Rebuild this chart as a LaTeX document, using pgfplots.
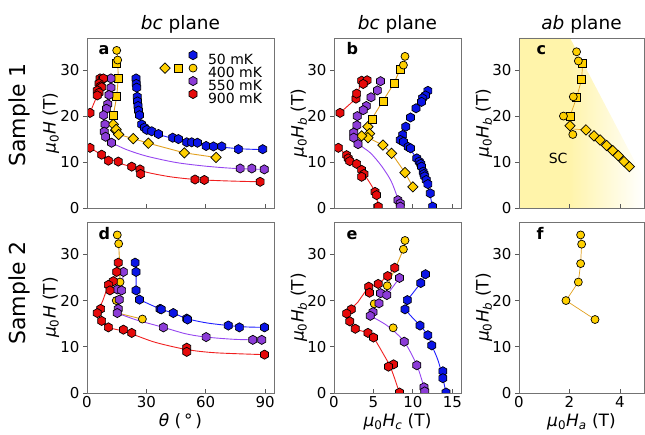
\documentclass[border=0pt]{standalone}
\usepackage{fontspec}
\setmainfont{DejaVu Sans}
\usepackage{pgfplots}
\pgfplotsset{compat=1.18}
\definecolor{cb}{RGB}{10,20,230}
\definecolor{cp}{RGB}{140,60,215}
\definecolor{cr}{RGB}{230,10,10}
\definecolor{cy}{RGB}{255,208,0}
\definecolor{lb}{RGB}{30,30,255}
\definecolor{lp}{RGB}{150,70,240}
\definecolor{lr}{RGB}{240,30,30}
\definecolor{ly}{RGB}{225,160,30}
\definecolor{scy}{RGB}{255,244,170}
\pgfdeclarehorizontalshading{scshade}{100bp}{color(0bp)=(scy); color(25bp)=(scy); color(45bp)=(scy); color(75bp)=(white); color(100bp)=(white)}
\pgfdeclareplotmark{hexagon*}{%
  \pgfpathmoveto{\pgfqpointpolar{90}{\pgfplotmarksize}}%
  \pgfpathlineto{\pgfqpointpolar{150}{\pgfplotmarksize}}%
  \pgfpathlineto{\pgfqpointpolar{210}{\pgfplotmarksize}}%
  \pgfpathlineto{\pgfqpointpolar{270}{\pgfplotmarksize}}%
  \pgfpathlineto{\pgfqpointpolar{330}{\pgfplotmarksize}}%
  \pgfpathlineto{\pgfqpointpolar{30}{\pgfplotmarksize}}%
  \pgfpathclose\pgfusepathqfillstroke}
\pgfdeclareplotmark{rdiamond*}{%
  \pgfpathmoveto{\pgfqpoint{0pt}{\pgfplotmarksize}}%
  \pgfpathlineto{\pgfqpoint{\pgfplotmarksize}{0pt}}%
  \pgfpathlineto{\pgfqpoint{0pt}{-\pgfplotmarksize}}%
  \pgfpathlineto{\pgfqpoint{-\pgfplotmarksize}{0pt}}%
  \pgfpathclose\pgfusepathqfillstroke}
\pgfplotsset{
  panel/.style={scale only axis, anchor=south west, axis on top,
    axis line style={draw=black!55, line width=0.9pt},
    tick style={black!65, line width=0.8pt}, major tick length=4pt,
    xtick align=inside, ytick align=outside, xtick pos=bottom, ytick pos=left,
    ymin=0, ymax=37, ytick={0,10,20,30},
    tick label style={font=\fontsize{15}{15}\selectfont},
    /pgf/number format/assume math mode=true,
    clip marker paths=true},
  hb/.style={only marks, mark=hexagon*, mark size=4.6pt, mark options={fill=cb, draw=black, line width=0.7pt}, forget plot},
  hp/.style={only marks, mark=hexagon*, mark size=4.6pt, mark options={fill=cp, draw=black, line width=0.7pt}, forget plot},
  hr/.style={only marks, mark=hexagon*, mark size=4.6pt, mark options={fill=cr, draw=black, line width=0.7pt}, forget plot},
  yc/.style={only marks, mark=*, mark size=4pt, mark options={fill=cy, draw=black, line width=0.7pt}, forget plot},
  ys/.style={only marks, mark=square*, mark size=4pt, mark options={fill=cy, draw=black, line width=0.7pt}, forget plot},
  yd/.style={only marks, mark=rdiamond*, mark size=5.2pt, mark options={fill=cy, draw=black, line width=0.7pt}, forget plot},
  fitb/.style={no marks, line width=0.9pt, color=lb, forget plot},
  fitp/.style={no marks, line width=0.9pt, color=lp, forget plot},
  fitr/.style={no marks, line width=0.9pt, color=lr, forget plot},
  fity/.style={no marks, line width=0.9pt, color=ly, forget plot},
}
\begin{document}
\begin{tikzpicture}
% ---------------- panel a
\begin{axis}[panel, at={(87pt,227pt)}, width=187pt, height=170pt,
  xmin=0, xmax=94.5, xtick={0,30,60,90}, xticklabels={},
  legend style={at={(axis cs:35.9,34.57)}, anchor=north west, draw=none, fill=none,
    inner sep=0pt, outer sep=0pt, row sep=-4pt, column sep=0pt,
    font=\fontsize{14}{14}\selectfont, nodes={inner sep=0pt}},
  legend cell align=left]
\addplot[fitb, smooth, tension=0.5] coordinates {(24.8,28.2)(25.1,25)(25.6,22.5)(26.5,20.2)(28,18.3)(31,17.0)(37,15.9)(45,15.0)(55,14.1)(65,13.4)(77,12.9)(89,12.7)};
\addplot[fity] coordinates {(15.2,34.3)(15.5,32.2)(15.8,28.2)(15.0,24.2)(13.3,20.2)(12.8,16.5)(16.0,16.0)(23.4,15.1)(31.0,14.1)(49.2,12.0)(65.2,11.0)};
\addplot[fitp, smooth, tension=0.5] coordinates {(12.4,14.2)(20,12.7)(30,11.3)(45,9.9)(60,9.1)(75,8.6)(89.6,8.4)};
\addplot[fitr] coordinates {(1.5,20.7)(3.5,22.8)(5.2,24.5)(6.1,26)(6.6,28.2)};
\addplot[fitr, smooth, tension=0.5] coordinates {(1.5,13.1)(7.4,11.6)(15,10.0)(22.6,8.9)(30,7.8)(42,6.8)(55,6.2)(70,5.9)(87.5,5.7)};
\addplot[hb] coordinates {(24.8,28.2)(24.9,27.0)(25.1,26.2)(25.4,24.2)(25.5,23.2)(25.8,22.2)(26.0,21.2)(26.5,20.2)(27.6,18.2)(29.0,17.5)(30.2,17.0)(32.7,16.7)(36.1,16.1)(43.3,15.3)(46.2,15.0)(50.4,14.3)(52.9,14.3)(55.8,14.2)(60.2,13.5)(63.9,13.4)(68.1,13.4)(76.5,12.8)(88.8,12.8)};
\addplot[yd] coordinates {(13.3,18.2)(14.5,16.9)(14.7,17.1)(16.0,16.0)(23.4,15.1)(31.0,14.1)(49.2,12.0)(65.2,11.0)};
\addplot[ys] coordinates {(15.0,31.4)(15.8,28.2)(15.0,24.2)(13.3,20.2)};
\addplot[yc] coordinates {(15.0,34.3)(15.5,32.2)};
\addplot[hp] coordinates {(12.1,28.2)(12.1,26.2)(11.1,24.6)(10.5,22.6)(9.8,21.6)(8.4,20.2)(9.1,18.2)(8.7,16.6)(9.4,15.5)(12.4,14.2)(77.4,8.6)(83.3,8.6)(89.6,8.4)};
\addplot[hr] coordinates {(6.6,28.2)(7.7,28.0)(8.3,28.2)(6.1,27.1)(6.9,26.5)(7.4,26.3)(5.2,25.6)(6.1,25.1)(5.2,24.5)(1.5,20.7)(1.5,13.1)(7.4,11.6)(10.8,10.3)(15.8,10.1)(22.6,9.0)(26.8,8.4)(27.1,7.4)(54.6,6.2)(59.3,6.1)(87.5,5.7)};
\addlegendimage{legend image code/.code={\path[draw=none,fill=none] (-35pt,-1pt) rectangle (15pt,11pt); \draw plot[only marks, mark=hexagon*, mark size=4.6pt, mark options={fill=cb, draw=black, line width=0.7pt}] coordinates {(0pt,5pt)};}}
\addlegendentry{50 mK}
\addlegendimage{legend image code/.code={\path[draw=none,fill=none] (-35pt,-1pt) rectangle (15pt,11pt);
 \draw plot[only marks, mark=rdiamond*, mark size=5.2pt, mark options={fill=cy, draw=black, line width=0.7pt}] coordinates {(-28pt,5pt)};
 \draw plot[only marks, mark=square*, mark size=4pt, mark options={fill=cy, draw=black, line width=0.7pt}] coordinates {(-15pt,5pt)};
 \draw plot[only marks, mark=*, mark size=4pt, mark options={fill=cy, draw=black, line width=0.7pt}] coordinates {(0pt,5pt)};}}
\addlegendentry{400 mK}
\addlegendimage{legend image code/.code={\path[draw=none,fill=none] (-35pt,-1pt) rectangle (15pt,11pt); \draw plot[only marks, mark=hexagon*, mark size=4.6pt, mark options={fill=cp, draw=black, line width=0.7pt}] coordinates {(0pt,5pt)};}}
\addlegendentry{550 mK}
\addlegendimage{legend image code/.code={\path[draw=none,fill=none] (-35pt,-1pt) rectangle (15pt,11pt); \draw plot[only marks, mark=hexagon*, mark size=4.6pt, mark options={fill=cr, draw=black, line width=0.7pt}] coordinates {(0pt,5pt)};}}
\addlegendentry{900 mK}
\end{axis}
% ---------------- panel b
\begin{axis}[panel, at={(334pt,227pt)}, width=127pt, height=170pt,
  xmin=0, xmax=16.1, xtick={0,5,10,15}, xticklabels={}]
\addplot[fitb, smooth, tension=0.5] coordinates {(8.4,14.8)(9.4,13.3)(10.3,11.2)(11.0,9.0)(11.6,6.3)(12.1,3.5)(12.5,0)};
\addplot[fity] coordinates {(4.8,19.4)(6.2,23.3)(7.6,27.1)(8.35,30.1)(8.8,31.1)(9.0,33.0)};
\addplot[fity] coordinates {(3.5,15.7)(4.3,15.3)(6.2,13.7)(7.3,11.9)(9.0,7.7)(10.0,4.6)};
\addplot[fitp, smooth, tension=0.5] coordinates {(3.05,13.9)(4.6,12)(6,9.2)(7.2,6)(8,2.5)(8.4,0)};
\addplot[fitr] coordinates {(0.76,20.7)(2.78,23.8)(3.5,27.7)};
\addplot[fitr, smooth, tension=0.5] coordinates {(0.55,13.1)(1.6,11.5)(2.7,9.7)(3.6,7.8)(4.5,5.6)(5.2,3.4)(5.7,0)};
\addplot[hb] coordinates {(11.9,25.5)(11.6,24.5)(11.2,23.9)(11.1,23.1)(10.4,21.7)(9.7,19.7)(9.1,17.7)(8.7,15.9)(8.4,14.8)(8.8,14.4)(9.4,13.3)(9.7,13.0)(10.5,10.8)(10.8,10.1)(11.0,9.6)(11.1,9.0)(11.3,7.9)(11.4,7.4)(11.5,6.9)(11.7,6.1)(11.9,5.2)(12.2,3.2)(12.5,0.3)};
\addplot[yd] coordinates {(4.3,17.7)(4.5,16.2)(4.3,15.3)(3.5,15.7)(6.2,13.7)(7.3,11.9)(9.0,7.7)(10.0,4.6)};
\addplot[ys] coordinates {(8.35,30.1)(7.6,27.1)(6.2,23.3)(4.8,19.4)};
\addplot[yc] coordinates {(9.0,33.0)(8.8,31.1)};
\addplot[hp] coordinates {(5.9,27.6)(5.5,25.6)(4.7,24.1)(4.1,22.2)(3.7,21.3)(2.95,20.0)(2.9,18.0)(2.5,16.4)(2.5,15.3)(3.05,13.9)(8.1,1.7)(8.4,1.0)(8.4,0.3)};
\addplot[hr] coordinates {(0.55,13.1)(1.6,11.5)(1.8,10.8)(2.0,10.2)(2.87,9.6)(3.5,8.3)(3.8,7.4)(3.5,6.8)(5.2,3.5)(5.4,2.8)(5.6,0.3)(0.76,20.7)(2.78,23.8)(2.87,24.9)(3.5,27.7)(4.2,27.8)(3.7,27.0)};
\end{axis}
% ---------------- panel c
\begin{axis}[panel, at={(519pt,227pt)}, width=125pt, height=170pt,
  xmin=0, xmax=4.95, xtick={0,2,4}, xticklabels={}]
\shade[shading=scshade, draw=none] (axis cs:0,0) -- (axis cs:0,37) -- (axis cs:2.02,37) -- (axis cs:4.95,6.3) -- (axis cs:4.95,0) -- cycle;
\node[font=\fontsize{14}{14}\selectfont] at (axis cs:1.55,10.9) {SC};
\addplot[fity, line width=0.7pt] coordinates {(2.52,31.4)(2.48,28.0)(2.28,24.0)(2.02,20.0)(2.1,17.2)(2.65,17.0)(2.97,15.7)(3.21,14.8)(3.47,13.6)(3.71,12.5)(3.93,11.4)(4.16,10.1)(4.37,9.0)};
\addplot[yd] coordinates {(2.02,17.9)(2.65,17.0)(2.97,15.7)(3.21,14.8)(3.47,13.6)(3.71,12.5)(3.93,11.4)(4.16,10.1)(4.37,9.0)};
\addplot[ys] coordinates {(2.52,31.4)(2.48,28.0)(2.28,24.0)(2.02,20.0)};
\addplot[yc] coordinates {(2.28,34.0)(2.35,32.0)(2.15,24.2)(1.76,20.0)(2.13,16.0)};
\end{axis}
% ---------------- panel d
\begin{axis}[panel, at={(87pt,42pt)}, width=187pt, height=171pt,
  xmin=0, xmax=94.5, xtick={0,30,60,90}]
\addplot[fitb] coordinates {(24.3,28.2)(24.8,26.2)(24.8,22.2)(26.5,20.2)};
\addplot[fitb, smooth, tension=0.5] coordinates {(26.5,20.2)(36.9,18.2)(43.6,17.3)(50.4,16.1)(60,15.2)(71.4,14.6)(80,14.3)(89.7,14.2)};
\addplot[fity] coordinates {(15.3,34.2)(16.0,32.3)(16.5,28)(16.7,24.0)(16,21.5)};
\addplot[fity] coordinates {(15.5,17.3)(26.8,16.1)};
\addplot[fitp] coordinates {(18.4,26.2)(17.5,22.2)};
\addplot[fitp, smooth, tension=0.5] coordinates {(15.3,17.3)(25,15.8)(38.6,14.2)(50,12.8)(60.2,12.1)(75,11.6)(88.3,11.5)};
\addplot[fitr] coordinates {(5.2,17.3)(8,20)(10.8,23.4)(13.3,24.2)(15,26.2)(15.8,28.2)};
\addplot[fitr, smooth, tension=0.5] coordinates {(5.2,17.3)(7.4,15.6)(10.8,14.2)(18.4,13.4)(25,12.4)(35,10.9)(50.4,9.4)(65,8.7)(89.7,8.3)};
\addplot[hb] coordinates {(24.3,28.2)(24.8,26.2)(24.8,22.2)(26.5,20.2)(36.9,18.2)(37.5,18.1)(43.6,17.3)(50.4,16.1)(50.8,15.9)(71.4,14.6)(77.0,14.2)(89.7,14.2)};
\addplot[yc] coordinates {(15.3,34.2)(16.0,32.3)(16.7,24.0)(14.8,20.0)(28.0,16.0)};
\addplot[hp] coordinates {(18.4,26.2)(15.3,22.4)(17.5,22.2)(16.3,20.2)(15.8,18.2)(15.3,17.3)(38.6,14.2)(60.2,12.1)(83.8,11.5)(88.3,11.5)};
\addplot[hr] coordinates {(15.8,28.2)(15.0,26.2)(13.3,24.2)(10.8,23.4)(11.6,22.2)(6.9,18.2)(5.2,17.3)(7.4,15.6)(10.8,14.2)(18.4,13.7)(22.6,13.0)(50.4,9.8)(50.4,8.9)(89.7,8.3)};
\end{axis}
% ---------------- panel e
\begin{axis}[panel, at={(334pt,42pt)}, width=127pt, height=171pt,
  xmin=0, xmax=16.1, xtick={0,5,10,15}]
\addplot[fitb] coordinates {(11.6,25.7)(11.0,23.8)(9.3,20.1)(9.0,18.1)};
\addplot[fitb, smooth, tension=0.5] coordinates {(9.0,18.1)(10.0,16.2)(10.9,14.6)(11.9,12.5)(12.4,10.3)(13.2,7)(13.8,3.2)(14.2,0)};
\addplot[fity] coordinates {(9.0,33.0)(8.8,31.1)(7.9,27.5)(6.75,23.2)};
\addplot[fitp] coordinates {(8.3,24.9)(6.7,21.2)};
\addplot[fitp, smooth, tension=0.5] coordinates {(4.6,16.7)(6.8,14.5)(8.9,11.1)(10.5,6.0)(11.4,1.24)(11.5,0)};
\addplot[fitr] coordinates {(7.7,27.1)(6.8,25.3)(5.6,23.6)(4.4,23.0)(3,19.6)(1.6,17.2)};
\addplot[fitr, smooth, tension=0.5] coordinates {(1.6,17.2)(2.0,15.5)(2.7,13.9)(4.3,13.0)(5.0,12.0)(6.0,9.2)(7.2,5.4)(8.3,0)};
\addplot[hb] coordinates {(11.6,25.7)(11.0,23.8)(9.3,20.1)(9.0,18.1)(10.9,14.6)(11.9,12.5)(12.4,10.3)(13.8,4.7)(13.8,3.2)(14.2,0.1)};
\addplot[yc] coordinates {(9.0,33.0)(8.8,31.1)(6.75,23.2)(5.1,19.3)(7.5,14.1)};
\addplot[hp] coordinates {(8.3,24.9)(5.9,21.6)(6.7,21.2)(5.7,19.4)(4.95,17.5)(4.6,16.7)(8.9,11.1)(10.5,6.0)(11.4,1.24)(11.5,0.34)};
\addplot[hr] coordinates {(7.7,27.1)(6.8,25.3)(5.6,23.6)(4.4,23.0)(4.5,21.7)(2.2,18.1)(1.6,17.2)(2.0,15.5)(2.7,13.9)(4.3,13.0)(5.0,12.0)(7.55,6.2)(6.9,5.7)(8.3,0.1)};
\end{axis}
% ---------------- panel f
\begin{axis}[panel, at={(519pt,42pt)}, width=125pt, height=171pt,
  xmin=0, xmax=4.95, xtick={0,2,4}]
\addplot[fity, line width=0.7pt] coordinates {(2.44,34.2)(2.48,32.2)(2.44,28.0)(2.35,24.0)(1.86,20.0)(3.01,15.9)};
\addplot[yc] coordinates {(2.44,34.2)(2.48,32.2)(2.44,28.0)(2.35,24.0)(1.86,20.0)(3.01,15.9)};
\end{axis}
% ---------------- texts
\begin{scope}[every node/.style={font=\fontsize{18.5}{20}\selectfont, anchor=base}]
\node at (180.5pt,405.5pt) {\textit{bc} plane};
\node at (397.5pt,405.5pt) {\textit{bc} plane};
\node at (581.5pt,405.5pt) {\textit{ab} plane};
\end{scope}
\begin{scope}[every node/.style={font=\fontsize{22}{24}\selectfont, rotate=90}]
\node at (19pt,320pt) {Sample 1};
\node at (19pt,142pt) {Sample 2};
\end{scope}
\begin{scope}[every node/.style={font=\fontsize{17}{19}\selectfont, rotate=90}]
\node at (51pt,312pt) {\textit{μ}\textsubscript{0}\textit{H} (T)};
\node at (299pt,312pt) {\textit{μ}\textsubscript{0}\textit{H}\textsubscript{\textit{b}} (T)};
\node at (484pt,312pt) {\textit{μ}\textsubscript{0}\textit{H}\textsubscript{\textit{b}} (T)};
\node at (51pt,127.5pt) {\textit{μ}\textsubscript{0}\textit{H} (T)};
\node at (299pt,127.5pt) {\textit{μ}\textsubscript{0}\textit{H}\textsubscript{\textit{b}} (T)};
\node at (484pt,127.5pt) {\textit{μ}\textsubscript{0}\textit{H}\textsubscript{\textit{b}} (T)};
\end{scope}
\begin{scope}[every node/.style={font=\fontsize{17}{19}\selectfont, anchor=base}]
\node at (180.5pt,8pt) {\textit{θ} (\,°\,)};
\node at (397.5pt,8pt) {\textit{μ}\textsubscript{0}\textit{H}\textsubscript{\textit{c}} (T)};
\node at (581.5pt,8pt) {\textit{μ}\textsubscript{0}\textit{H}\textsubscript{\textit{a}} (T)};
\end{scope}
\begin{scope}[every node/.style={font=\fontsize{16}{18}\bfseries\selectfont, anchor=base west}]
\node at (95pt,380pt) {a};
\node at (343pt,380pt) {b};
\node at (533pt,380pt) {c};
\node at (95pt,195pt) {d};
\node at (343pt,195pt) {e};
\node at (533pt,195pt) {f};
\end{scope}
\pgfresetboundingbox
\useasboundingbox (0pt,0pt) rectangle (645pt,435pt);
\end{tikzpicture}
\end{document}
